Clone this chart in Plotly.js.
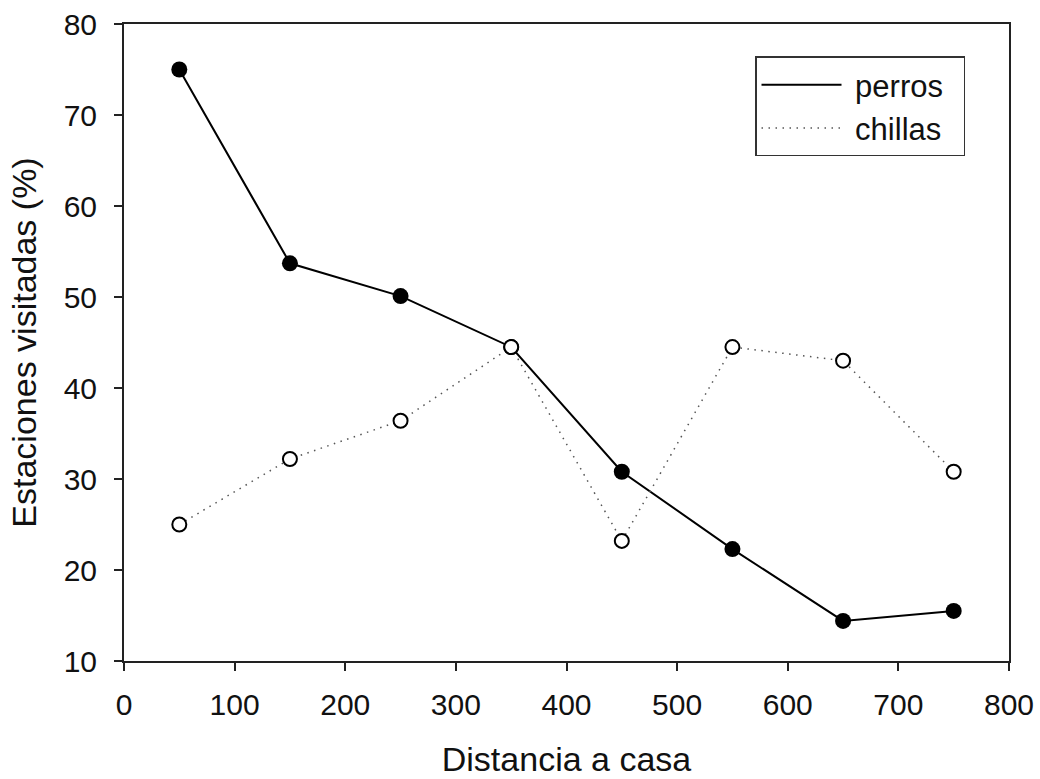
<!DOCTYPE html>
<html>
<head>
<meta charset="utf-8">
<script src="https://cdn.plot.ly/plotly-3.0.1.min.js"></script>
<style>html,body{margin:0;padding:0;background:#fff;}#chart{width:1040px;height:779px;}</style>
</head>
<body>
<div id="chart"></div>
<script>
const distancia = [50, 150, 250, 350, 450, 550, 650, 750];
const perros = [75.0, 53.7, 50.1, 44.5, 30.8, 22.3, 14.4, 15.5];
const chillas = [25.0, 32.2, 36.4, 44.5, 23.2, 44.5, 43.0, 30.8];
const xTicks = [0, 100, 200, 300, 400, 500, 600, 700, 800];
const yTicks = [10, 20, 30, 40, 50, 60, 70, 80];
const seriesNames = ['perros', 'chillas'];

const FONT = 'Liberation Sans, Arial, sans-serif';
const pad = s => '\u00a0' + s + '\u00a0\u2009';

const traces = [
  {x: distancia, y: perros, name: pad(seriesNames[0]), mode: 'lines',
   line: {color: '#000', width: 2}, showlegend: true},
  {x: distancia, y: perros, name: seriesNames[0], mode: 'markers',
   marker: {color: '#000', size: 16, line: {width: 0}}, showlegend: false},
  {x: distancia, y: chillas, name: pad(seriesNames[1]), mode: 'lines',
   line: {color: '#555', width: 1.5, dash: '1.5px,5.5px'}, showlegend: true},
  {x: distancia, y: chillas, name: seriesNames[1], mode: 'markers',
   marker: {color: '#fff', size: 14, line: {color: '#000', width: 2}}, showlegend: false}
];

const layout = {
  width: 1040, height: 779,
  margin: {l: 124, r: 31, t: 24, b: 118},
  paper_bgcolor: '#fff', plot_bgcolor: '#fff',
  font: {family: FONT, color: '#111', size: 30},
  showlegend: true,
  legend: {
    x: 0.713, y: 0.949, xanchor: 'left', yanchor: 'top',
    bgcolor: '#fff', bordercolor: '#333', borderwidth: 1.5,
    font: {family: FONT, size: 31, color: '#111'},
    itemwidth: 80, tracegroupgap: 0
  },
  xaxis: {
    range: [0, 800], tickvals: xTicks, ticktext: xTicks.map(String),
    showgrid: false, zeroline: false,
    showline: true, linecolor: '#222', linewidth: 2, mirror: true,
    ticks: 'outside', ticklen: 8, tickwidth: 2, tickcolor: '#222',
    tickfont: {family: FONT, size: 30, color: '#111'},
    ticklabelstandoff: 8,
    title: {text: 'Distancia a casa', font: {family: FONT, size: 34, color: '#111'}, standoff: 27}
  },
  yaxis: {
    range: [10, 80], tickvals: yTicks, ticktext: yTicks.map(String),
    showgrid: false, zeroline: false,
    showline: true, linecolor: '#222', linewidth: 2, mirror: true,
    ticks: 'outside', ticklen: 8, tickwidth: 2, tickcolor: '#222',
    tickfont: {family: FONT, size: 30, color: '#111'},
    ticklabelstandoff: 11,
    title: {text: 'Estaciones visitadas (%)', font: {family: FONT, size: 34, color: '#111'}, standoff: 17}
  }
};

Plotly.newPlot('chart', traces, layout, {displayModeBar: false, staticPlot: true});
</script>
</body>
</html>
